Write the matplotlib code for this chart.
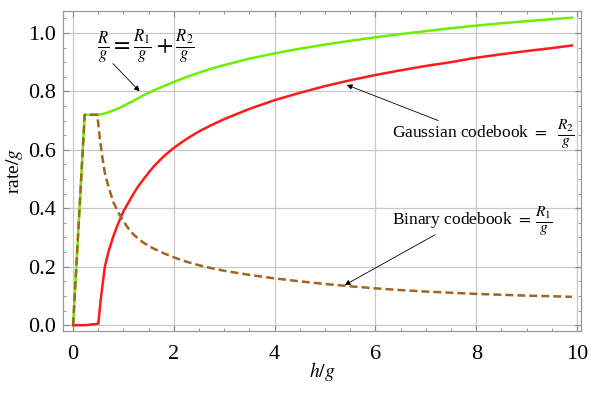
import matplotlib
matplotlib.use("Agg")
import matplotlib.pyplot as plt
from matplotlib.ticker import MultipleLocator, FormatStrFormatter

plt.rcParams['font.family'] = ['Liberation Serif', 'DejaVu Serif']
plt.rcParams['mathtext.fontset'] = 'stix'

# Data
h_sum = [0.0, 0.23, 0.5, 0.6, 0.7, 0.8, 0.9, 1.0, 1.2, 1.4, 1.6, 1.8, 2.0, 2.25, 2.5, 2.75, 3.0,
         3.5, 4.0, 4.5, 5.0, 5.5, 6.0, 6.5, 7.0, 7.5, 8.0, 8.5, 9.0, 9.5, 9.9]
rate_sum = [0.0, 0.72, 0.72, 0.723, 0.728, 0.735, 0.742, 0.75, 0.768, 0.787, 0.803, 0.818, 0.832,
            0.849, 0.864, 0.878, 0.89, 0.912, 0.93, 0.946, 0.96, 0.973, 0.985, 0.996, 1.006,
            1.016, 1.025, 1.033, 1.04, 1.047, 1.052]

h_gauss = [0.0, 0.25, 0.5, 0.55, 0.6, 0.63, 0.7, 0.8, 0.9, 1.0, 1.1, 1.2, 1.3, 1.4, 1.5, 1.6, 1.8,
           2.0, 2.25, 2.5, 2.75, 3.0, 3.5, 4.0, 4.5, 5.0, 5.5, 6.0, 6.5, 7.0, 7.5, 8.0, 8.5, 9.0,
           9.5, 9.9]
rate_gauss = [0.0, 0.0, 0.005, 0.09, 0.16, 0.2, 0.25, 0.305, 0.35, 0.39, 0.42, 0.45, 0.477, 0.50,
              0.522, 0.543, 0.578, 0.607, 0.637, 0.663, 0.685, 0.705, 0.74, 0.77, 0.795, 0.818,
              0.838, 0.856, 0.872, 0.887, 0.90, 0.915, 0.927, 0.938, 0.948, 0.957]

h_bin = [0.0, 0.23, 0.48, 0.53, 0.58, 0.63, 0.7, 0.8, 0.9, 1.0, 1.1, 1.2, 1.3, 1.4, 1.5, 1.6, 1.8,
         2.0, 2.25, 2.5, 2.75, 3.0, 3.5, 4.0, 4.5, 5.0, 5.5, 6.0, 6.5, 7.0, 7.5, 8.0, 8.5, 9.0,
         9.5, 9.9]
rate_bin = [0.0, 0.72, 0.72, 0.64, 0.575, 0.52, 0.475, 0.42, 0.385, 0.355, 0.33, 0.31, 0.295,
            0.282, 0.271, 0.262, 0.246, 0.232, 0.217, 0.205, 0.195, 0.186, 0.172, 0.16, 0.15,
            0.141, 0.133, 0.126, 0.12, 0.115, 0.111, 0.107, 0.104, 0.101, 0.099, 0.097]

fig = plt.figure(figsize=(5.98, 3.98), dpi=100)
ax = fig.add_axes([0.1054, 0.1683, 0.8662, 0.8041])

ax.plot(h_sum, rate_sum, color='#6CEF00', lw=1.8, zorder=3)
ax.plot(h_gauss, rate_gauss, color='#FF1A1A', lw=1.8, zorder=4)
ax.plot(h_bin, rate_bin, color='#A0651F', lw=1.8, ls=(0, (3.2, 1.6)), zorder=5)

ax.set_xlim(-0.2, 10.08)
ax.set_ylim(-0.02, 1.075)
ax.xaxis.set_major_locator(MultipleLocator(2))
ax.xaxis.set_minor_locator(MultipleLocator(0.5))
ax.yaxis.set_major_locator(MultipleLocator(0.2))
ax.yaxis.set_minor_locator(MultipleLocator(0.05))
ax.yaxis.set_major_formatter(FormatStrFormatter('%.1f'))
ax.grid(True, which='major', color='#C8C8C8', lw=0.9)
ax.tick_params(which='both', direction='in', top=True, right=True, color='#888888',
               labelsize=16, labelcolor='black')
ax.tick_params(which='major', length=4, width=0.8)
ax.tick_params(which='minor', length=2, width=0.6)
ax.tick_params(axis='x', which='major', pad=10)
ax.tick_params(axis='y', which='major', pad=5)
for s in ax.spines.values():
    s.set_color('#999999')
    s.set_linewidth(0.9)

ax.set_xlabel(r'$h/g$', fontsize=14, labelpad=-3)
ax.set_ylabel(r'rate$/g$', fontsize=14, labelpad=2)

ax.text(0.47, 0.952, r'$\frac{R}{g}=\frac{R_1}{g}+\frac{R_2}{g}$', fontsize=17, ha='left', va='center')
ax.annotate('', xy=(1.32, 0.80), xytext=(0.79, 0.895),
            arrowprops=dict(arrowstyle='-|>', color='black', lw=0.6, mutation_scale=8, shrinkA=0, shrinkB=0))
ax.annotate(r'Gaussian codebook $=$', xy=(5.43, 0.822), xytext=(6.33, 0.658),
            fontsize=12.5, ha='left', va='center',
            arrowprops=dict(arrowstyle='-|>', color='black', lw=0.6, mutation_scale=8, shrinkA=3, shrinkB=0))
ax.text(9.6, 0.652, r'$\frac{R_2}{g}$', fontsize=16, ha='left', va='center')
ax.annotate(r'Binary codebook $=$', xy=(5.39, 0.137), xytext=(6.33, 0.36),
            fontsize=12.5, ha='left', va='center',
            arrowprops=dict(arrowstyle='-|>', color='black', lw=0.6, mutation_scale=8, shrinkA=3, shrinkB=0))
ax.text(9.17, 0.354, r'$\frac{R_1}{g}$', fontsize=16, ha='left', va='center')

fig.savefig('out.png', dpi=100)
